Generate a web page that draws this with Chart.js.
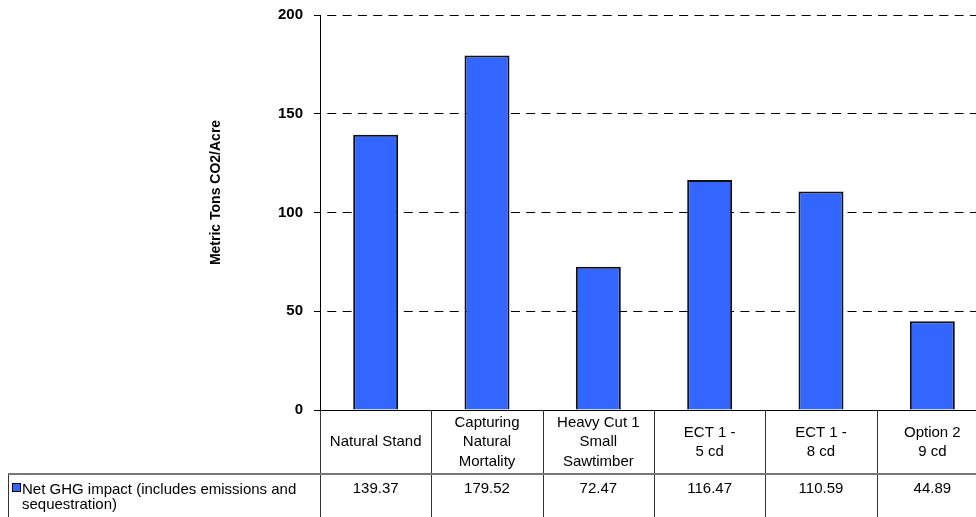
<!DOCTYPE html>
<html>
<head>
<meta charset="utf-8">
<script src="https://cdn.jsdelivr.net/npm/chart.js@4"></script>
<style>
  html, body { margin: 0; padding: 0; background: #fff; overflow: hidden; }
  #wrap { width: 976px; height: 517px; overflow: hidden; }
  canvas { display: block; }
</style>
</head>
<body>
<div id="wrap"><canvas id="c" width="1000" height="517"></canvas></div>
<script>
// Scenario names (one entry per line of the label)
const categories = [
  ['Natural Stand'],
  ['Capturing', 'Natural', 'Mortality'],
  ['Heavy Cut 1', 'Small', 'Sawtimber'],
  ['ECT 1 -', '5 cd'],
  ['ECT 1 -', '8 cd'],
  ['Option 2', '9 cd']
];
// Net GHG impact, metric tons CO2 per acre
const netGhg = [139.37, 179.52, 72.47, 116.47, 110.59, 44.89];
const seriesName = 'Net GHG impact (includes emissions and sequestration)';
const yTicks = [0, 50, 100, 150, 200];
const yTitle = 'Metric Tons CO2/Acre';

const FONT = '"Liberation Sans", Arial, Helvetica, sans-serif';
const BAR_BLUE = '#3366FF';

// Data table under the plot: category row, value row and the series key
const dataTable = {
  id: 'dataTable',
  afterDraw(chart) {
    const { ctx, chartArea, scales } = chart;
    const x = scales.x;
    const H = chart.height, W = chart.width;
    const top = chartArea.bottom;
    const rowLine = 474;
    const colW = x.getPixelForValue(1) - x.getPixelForValue(0);
    ctx.save();

    // axis title
    ctx.save();
    ctx.translate(216.5, (chartArea.top + chartArea.bottom) / 2 - 20);
    ctx.rotate(-Math.PI / 2);
    ctx.font = 'bold 14px ' + FONT;
    ctx.fillStyle = '#000';
    ctx.textAlign = 'center';
    ctx.textBaseline = 'middle';
    ctx.fillText(yTitle, 0, 0);
    ctx.restore();

    // grid of the table
    ctx.strokeStyle = '#333';
    ctx.lineWidth = 1;
    for (let k = 0; k <= categories.length; k++) {
      const bx = Math.round(x.getPixelForValue(k) - colW / 2) + 0.5;
      ctx.beginPath();
      ctx.moveTo(bx, top);
      ctx.lineTo(bx, H);
      ctx.stroke();
    }
    ctx.beginPath();
    ctx.moveTo(8.5, rowLine);
    ctx.lineTo(8.5, H);
    ctx.stroke();
    ctx.strokeStyle = '#777';
    ctx.lineWidth = 2;
    ctx.beginPath();
    ctx.moveTo(8, rowLine);
    ctx.lineTo(W, rowLine);
    ctx.stroke();

    // category labels
    ctx.fillStyle = '#000';
    ctx.font = '15px ' + FONT;
    ctx.textAlign = 'center';
    ctx.textBaseline = 'alphabetic';
    const lineGap = 19.5;
    categories.forEach((lines, i) => {
      const cx = x.getPixelForValue(i);
      lines.forEach((t, j) => {
        const by = 446.4 + (j - (lines.length - 1) / 2) * lineGap;
        ctx.fillText(t, cx, by);
      });
    });

    // values
    const data = chart.data.datasets[0].data;
    data.forEach((v, i) => {
      ctx.fillText(v.toFixed(2), x.getPixelForValue(i), 493);
    });

    // series key
    ctx.fillStyle = BAR_BLUE;
    ctx.fillRect(12, 483, 9, 9);
    ctx.strokeStyle = '#000';
    ctx.lineWidth = 1;
    ctx.strokeRect(12.5, 483.5, 8, 8);
    ctx.fillStyle = '#000';
    ctx.textAlign = 'left';
    const words = chart.data.datasets[0].label.split(' ');
    const maxW = 296;
    const out = [];
    let cur = '';
    words.forEach(w => {
      const test = cur ? cur + ' ' + w : w;
      if (ctx.measureText(test).width > maxW && cur) { out.push(cur); cur = w; }
      else cur = test;
    });
    if (cur) out.push(cur);
    out.forEach((t, j) => ctx.fillText(t, 22, 494 + j * 14.6));

    ctx.restore();
  }
};

new Chart(document.getElementById('c'), {
  type: 'bar',
  data: {
    labels: categories.map(c => c.join(' ')),
    datasets: [{
      label: seriesName,
      data: netGhg,
      backgroundColor: BAR_BLUE,
      borderColor: '#111',
      borderWidth: 2,
      barPercentage: 0.404,
      categoryPercentage: 1
    }]
  },
  options: {
    responsive: false,
    animation: false,
    devicePixelRatio: 1,
    layout: { padding: { left: 0, top: 15, right: 12, bottom: 107 } },
    plugins: { legend: { display: false }, tooltip: { enabled: false } },
    scales: {
      x: { display: false },
      y: {
        min: 0,
        max: 200,
        afterFit(scale) {
          scale.width = 320;
          scale.paddingTop = 0;
          scale.paddingBottom = 0;
        },
        afterBuildTicks(scale) { scale.ticks = yTicks.map(v => ({ value: v })); },
        ticks: {
          color: '#000',
          padding: 11,
          font: { family: FONT, size: 15, weight: 'bold' }
        },
        grid: {
          color: '#000',
          lineWidth: 1,
          drawTicks: true,
          tickLength: 6,
          tickColor: '#000',
          tickBorderDash: []
        },
        border: {
          display: true,
          color: '#000',
          width: 1,
          dash: ctx => (ctx.tick && ctx.tick.value !== 0) ? [9, 6.3] : [],
          dashOffset: 9
        }
      }
    }
  },
  plugins: [dataTable]
});
</script>
</body>
</html>
